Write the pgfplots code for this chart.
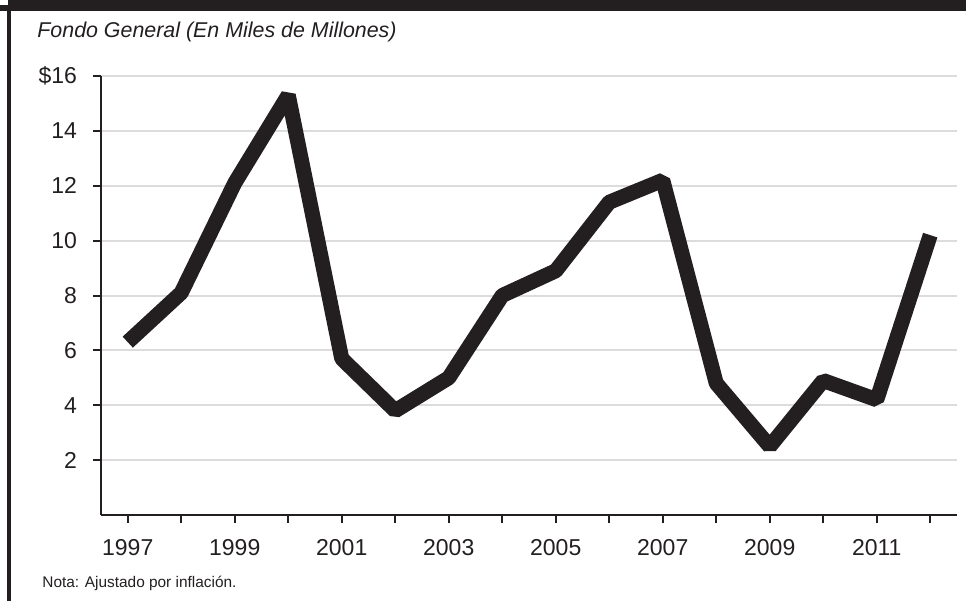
\documentclass[border=0pt]{standalone}
\usepackage{fontspec}
\setmainfont{Liberation Sans}
\usepackage{pgfplots}
\pgfplotsset{compat=1.18}
\definecolor{ink}{HTML}{231F20}
\definecolor{gridc}{HTML}{DCDCDC}
\begin{document}
\begin{tikzpicture}
\useasboundingbox (0,0) rectangle (487.5pt,300.5pt);
% frame: top bar and left rule
\fill[ink] (0pt,300.5pt) rectangle (483pt,295pt);
\fill[white] (0pt,300.5pt) rectangle (4pt,298pt);
\fill[ink] (3.5pt,295pt) rectangle (5.5pt,0pt);
\node[anchor=base west, font=\fontsize{10.7}{12}\selectfont\itshape, text=ink, inner sep=0pt] at (18.5pt,281.5pt) {Fondo General (En Miles de Millones)};
\node[anchor=base west, font=\fontsize{7.7}{9}\selectfont, text=ink, inner sep=0pt] at (21pt,7pt) {Nota: Ajustado por inflación.};
\begin{axis}[
  at={(50.5pt,43pt)}, anchor=south west,
  scale only axis, width=428pt, height=219.5pt,
  xmin=1996.5, xmax=2012.5, ymin=0, ymax=16,
  axis lines=left,
  axis line style={-, ink, line width=1.3pt},
  xtick={1997,1998,...,2012},
  xticklabels={1997,,1999,,2001,,2003,,2005,,2007,,2009,,2011,},
  ytick={2,4,...,16},
  yticklabels={2,4,6,8,10,12,14,\$16},
  tick align=outside,
  major tick length=4pt,
  tick style={ink, line width=1pt},
  ymajorgrids,
  grid style={gridc, line width=1pt},
  ticklabel style={font=\fontsize{11.5}{13}\selectfont, text=ink},
  xticklabel style={yshift=-4.5pt},
  yticklabel style={xshift=-4.5pt},
  /pgf/number format/assume math mode=true,
  clip=false,
]
\addplot[ink, line width=7.5pt, line join=bevel, line cap=butt] coordinates {
(1997,6.3) (1998,8.1) (1999,12.1) (2000,15.3) (2001,5.7) (2002,3.8)
(2003,5.0) (2004,8.0) (2005,8.9) (2006,11.4) (2007,12.2) (2008,4.8)
(2009,2.5) (2010,4.9) (2011,4.2) (2012,10.2)
};
\end{axis}
\end{tikzpicture}
\end{document}
